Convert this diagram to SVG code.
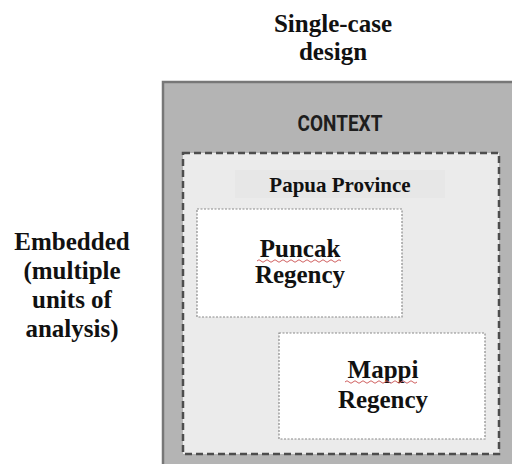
<svg xmlns="http://www.w3.org/2000/svg" width="512" height="464" viewBox="0 0 512 464">
<style>
.lbl{font-family:"Liberation Serif","Times New Roman",serif;font-weight:bold;fill:#111;text-anchor:middle}
.big{font-size:25px}
.box{fill:#ffffff;stroke:#8a8a8a;stroke-width:1.2;stroke-dasharray:2 1.5}
.squig{fill:none;stroke:#d06060;stroke-width:1}
</style>
<rect width="512" height="464" fill="#ffffff"/>
<g id="title">
<text class="lbl big" x="333" y="32">Single-case</text>
<text class="lbl big" x="333" y="60">design</text>
</g>
<g id="side-label">
<text class="lbl big" x="72" y="250">Embedded</text>
<text class="lbl big" x="72" y="279">(multiple</text>
<text class="lbl big" x="72" y="308">units of</text>
<text class="lbl big" x="72" y="337">analysis)</text>
</g>
<g id="context">
<rect x="163" y="82" width="360" height="400" fill="#b4b4b4" stroke="#777777" stroke-width="2.5"/>
<text x="340" y="131" font-family="Roboto, sans-serif" font-weight="bold" font-size="20" fill="#1e1e1e" text-anchor="middle" transform="translate(340 131) scale(0.95 1.08) translate(-340 -131)">CONTEXT</text>
</g>
<g id="papua-province">
<rect x="183" y="153" width="316" height="301" fill="#ebebeb" stroke="#4d4d4d" stroke-width="2.5" stroke-dasharray="7 4"/>
<rect x="235" y="170" width="210" height="28" fill="#e7e7e7"/>
<text class="lbl" x="340" y="192" font-size="21">Papua Province</text>
</g>
<g id="puncak-regency">
<rect class="box" x="197" y="209" width="205" height="108"/>
<text class="lbl big" x="300" y="257">Puncak</text>
<text class="lbl big" x="300" y="283">Regency</text>
<path class="squig" d="M257 261 q2 -2.5 4 0 t4 0 t4 0 t4 0 t4 0 t4 0 t4 0 t4 0 t4 0 t4 0 t4 0 t4 0 t4 0 t4 0 t4 0 t4 0 t4 0 t4 0 t4 0 t4 0 t4 0"/>
</g>
<g id="mappi-regency">
<rect class="box" x="279" y="333" width="206" height="106"/>
<text class="lbl big" x="383" y="378">Mappi</text>
<text class="lbl big" x="383" y="408">Regency</text>
<path class="squig" d="M345 382 q2 -2.5 4 0 t4 0 t4 0 t4 0 t4 0 t4 0 t4 0 t4 0 t4 0 t4 0 t4 0 t4 0 t4 0 t4 0 t4 0 t4 0 t4 0 t4 0"/>
</g>
<g id="connectors"></g>
</svg>
